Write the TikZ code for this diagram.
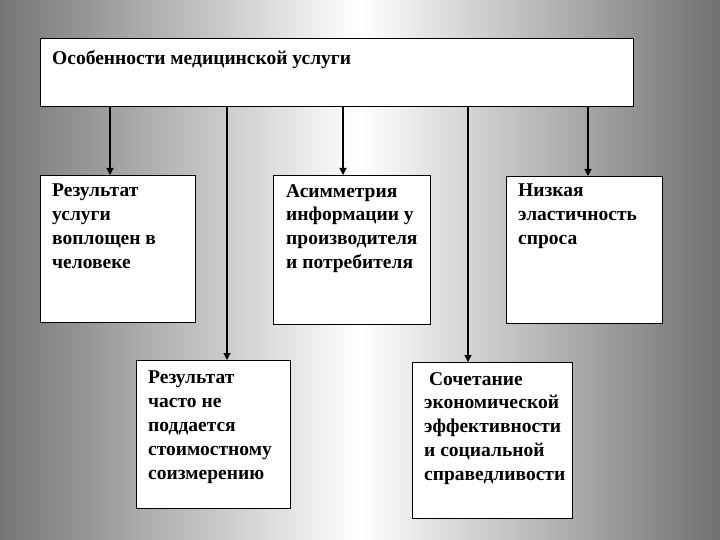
\documentclass[tikz,border=0pt]{standalone}
\usepackage{fontspec}
\setmainfont{Liberation Serif}
\usetikzlibrary{arrows.meta}

\tikzset{
  box/.style={draw=black, line width=1.3pt, fill=white, anchor=north west, inner sep=0pt},
  txt/.style={anchor=north west, inner sep=0pt, align=left,
    font=\fontsize{19.5}{23.8}\selectfont\bfseries},
  arr/.style={line width=1.2pt, -{Triangle[length=7pt,width=7pt]}}
}

\begin{document}
\begin{tikzpicture}[x=1pt, y=-1pt]
  \useasboundingbox (0,0) rectangle (720,540);
  % background
  \shade[left color=black!54, right color=black!56, middle color=white] (0,0) rectangle (720,540);

  % top box
  \node[box, minimum width=593pt, minimum height=68pt] (top) at (40,38) {};
  \node[txt] (ttop) at ([shift={(12,12)}]top.north west) {Особенности медицинской услуги};

  % first row
  \node[box, minimum width=155pt, minimum height=147pt] (b1) at (40,175) {};
  \node[txt] (t1) at ([shift={(12,9)}]b1.north west) {Результат\\ услуги\\ воплощен в\\ человеке};

  \node[box, minimum width=157pt, minimum height=149pt] (b2) at (273,175) {};
  \node[txt] (t2) at ([shift={(13,9)}]b2.north west) {Асимметрия\\ информации у\\ производителя\\ и потребителя};

  \node[box, minimum width=156pt, minimum height=147pt] (b3) at (506,176) {};
  \node[txt] (t3) at ([shift={(12,8)}]b3.north west) {Низкая\\ эластичность\\ спроса};

  % second row
  \node[box, minimum width=154pt, minimum height=148pt] (b4) at (136,360) {};
  \node[txt] (t4) at ([shift={(12,11)}]b4.north west) {Результат\\ часто не\\ поддается\\ стоимостному\\ соизмерению};

  \node[box, minimum width=160pt, minimum height=156pt] (b5) at (412,362) {};
  \node[txt] (t5) at ([shift={(12,10)}]b5.north west) {\ Сочетание\\ экономической\\ эффективности\\ и социальной\\ справедливости};

  % arrows
  \draw[arr] (top.south -| 110,0) -- (b1.north -| 110,0);
  \draw[arr] (top.south -| 227,0) -- (b4.north -| 227,0);
  \draw[arr] (top.south -| 343,0) -- (b2.north -| 343,0);
  \draw[arr] (top.south -| 468,0) -- (b5.north -| 468,0);
  \draw[arr] (top.south -| 588,0) -- (b3.north -| 588,0);
\end{tikzpicture}
\end{document}
